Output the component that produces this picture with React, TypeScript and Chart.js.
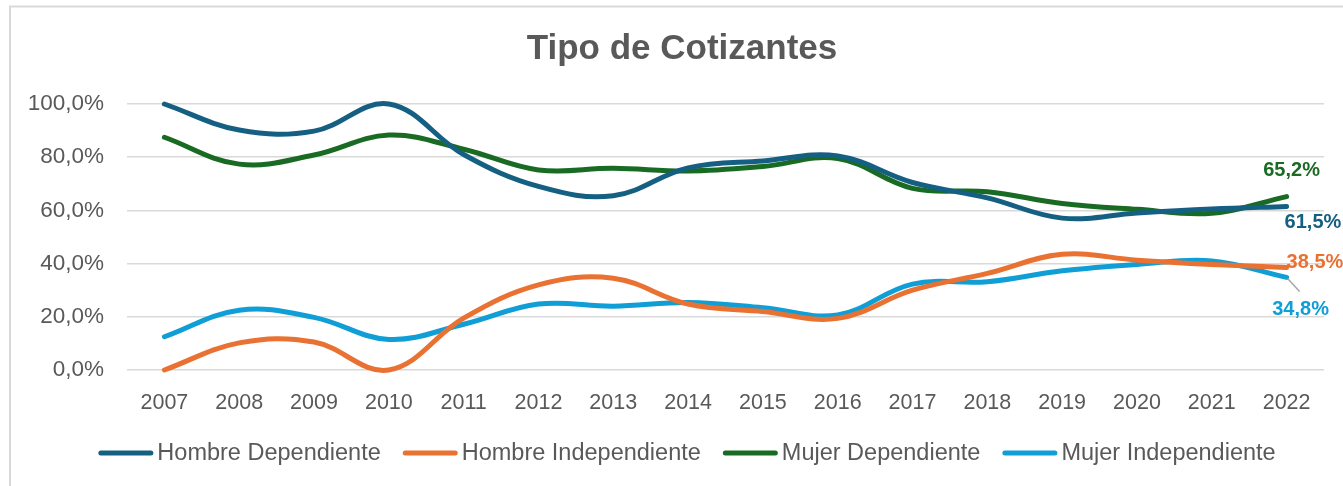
import { useEffect, useRef } from "react";
import { Chart, registerables } from "chart.js";

Chart.register(...registerables);

const FONT = '"Liberation Sans", Arial, sans-serif';
const TEXT_COLOR = "#595959";
const GRID_COLOR = "#D9D9D9";

const chartTitle = "Tipo de Cotizantes";
const years = ["2007", "2008", "2009", "2010", "2011", "2012", "2013", "2014", "2015", "2016", "2017", "2018", "2019", "2020", "2021", "2022"];
const hombreDependiente = [100, 90.2, 89.8, 100, 81, 69, 65.5, 76, 78.6, 80.5, 70.5, 64.7, 57.1, 59, 60.5, 61.5];
const hombreIndependiente = [0, 10.2, 10.5, 0, 19.5, 32, 34.5, 24.8, 22, 19.4, 30, 36.3, 43.5, 41.3, 39.7, 38.5];
const mujerDependiente = [87.5, 77.4, 80.8, 88.3, 83, 75.2, 75.8, 74.8, 76.5, 79.5, 68.3, 67, 62.6, 60.4, 58.9, 65.2];
const mujerIndependiente = [12.5, 22.5, 19.8, 11.5, 17.2, 24.8, 24, 25.4, 23.4, 20.7, 32.3, 33.2, 37.3, 39.7, 41, 34.8];
const seriesNames = ["Hombre Dependiente", "Hombre Independiente", "Mujer Dependiente", "Mujer Independiente"];
const seriesColors = ["#156082", "#E97132", "#196B24", "#0F9ED5"];
const yTickValues = [0, 20, 40, 60, 80, 100];

const fmtPct = (v: number) => v.toFixed(1).replace(".", ",") + "%";

const framePlugin = {
  id: "frame",
  beforeDraw(chart: any) {
    const { ctx, width, height } = chart;
    ctx.save();
    ctx.fillStyle = "#FFFFFF";
    ctx.fillRect(0, 0, width, height);
    ctx.strokeStyle = GRID_COLOR;
    ctx.lineWidth = 2;
    ctx.beginPath();
    ctx.moveTo(10, height);
    ctx.lineTo(10, 6.5);
    ctx.lineTo(width, 6.5);
    ctx.stroke();
    ctx.restore();
  },
};

const titlePlugin = {
  id: "customTitle",
  afterDraw(chart: any) {
    const { ctx } = chart;
    ctx.save();
    ctx.font = `bold 35px ${FONT}`;
    ctx.fillStyle = TEXT_COLOR;
    ctx.textAlign = "center";
    ctx.textBaseline = "alphabetic";
    ctx.fillText(chartTitle, 682, 59);
    ctx.restore();
  },
};

const legendPlugin = {
  id: "customLegend",
  afterDraw(chart: any) {
    const { ctx } = chart;
    ctx.save();
    ctx.font = `23.5px ${FONT}`;
    const marker = 55;
    const gapText = 4;
    const gapItem = 22;
    const items = chart.data.datasets.map((ds: any) => ({
      label: ds.label as string,
      color: ds.borderColor as string,
      w: ctx.measureText(ds.label).width,
    }));
    const total =
      items.reduce((s: number, it: any) => s + marker + gapText + it.w, 0) + gapItem * (items.length - 1);
    let x = 687 - total / 2;
    const y = 453;
    for (const it of items) {
      ctx.strokeStyle = it.color;
      ctx.lineWidth = 5;
      ctx.lineCap = "round";
      ctx.beginPath();
      ctx.moveTo(x + 2.5, y);
      ctx.lineTo(x + marker - 2.5, y);
      ctx.stroke();
      ctx.fillStyle = TEXT_COLOR;
      ctx.textAlign = "left";
      ctx.textBaseline = "middle";
      ctx.fillText(it.label, x + marker + gapText, y + 1);
      x += marker + gapText + it.w + gapItem;
    }
    ctx.restore();
  },
};

const endLabelPlugin = {
  id: "endLabels",
  afterDatasetsDraw(chart: any) {
    const { ctx } = chart;
    ctx.save();
    ctx.font = `bold 20px ${FONT}`;
    ctx.textBaseline = "middle";
    const specs = [
      { ds: 0, dx: -2, dy: 16, align: "left" },
      { ds: 1, dx: 0, dy: -5, align: "left" },
      { ds: 2, dx: 5, dy: -26, align: "center" },
      { ds: 3, dx: 14, dy: 32, align: "center", leader: true },
    ];
    for (const s of specs) {
      const meta = chart.getDatasetMeta(s.ds);
      const data = chart.data.datasets[s.ds].data as number[];
      const last = data.length - 1;
      const pt = meta.data[last];
      if (!pt) continue;
      const x = pt.x + s.dx;
      const y = pt.y + s.dy;
      if (s.leader) {
        ctx.strokeStyle = "#A6A6A6";
        ctx.lineWidth = 1.5;
        ctx.beginPath();
        ctx.moveTo(pt.x + 1, pt.y + 1);
        ctx.lineTo(pt.x + 13, pt.y + 14);
        ctx.stroke();
      }
      ctx.fillStyle = seriesColors[s.ds];
      ctx.textAlign = s.align;
      ctx.fillText(fmtPct(data[last]), x, y);
    }
    ctx.restore();
  },
};

export default function App() {
  const canvasRef = useRef<HTMLCanvasElement | null>(null);

  useEffect(() => {
    document.body.style.margin = "0";
    const canvas = canvasRef.current;
    if (!canvas) return;
    const seriesValues = [hombreDependiente, hombreIndependiente, mujerDependiente, mujerIndependiente];
    const chart = new Chart(canvas, {
      type: "line",
      data: {
        labels: years,
        datasets: seriesNames.map((name, i) => ({
          label: name,
          data: seriesValues[i],
          borderColor: seriesColors[i],
          backgroundColor: seriesColors[i],
          borderWidth: 5,
          borderCapStyle: "round",
          borderJoinStyle: "round",
          pointRadius: 0,
          pointHoverRadius: 0,
          tension: 0.38,
          fill: false,
          clip: false,
        })),
      },
      options: {
        responsive: false,
        animation: false,
        devicePixelRatio: 1,
        elements: { line: { capBezierPoints: false } },
        layout: { padding: { left: 0, right: 19, top: 104, bottom: 76 } },
        plugins: {
          legend: { display: false },
          title: { display: false },
          tooltip: { enabled: false },
        },
        scales: {
          x: {
            offset: true,
            grid: { display: false, drawTicks: false },
            border: { display: false },
            ticks: {
              color: TEXT_COLOR,
              font: { family: FONT, size: 21.5 },
              padding: 20,
              maxRotation: 0,
              autoSkip: false,
            },
            afterFit: (scale: any) => {
              scale.height = 40;
            },
          },
          y: {
            min: 0,
            max: 100,
            grid: { color: GRID_COLOR, lineWidth: 1.5, drawTicks: false },
            border: { display: false },
            afterBuildTicks: (scale: any) => {
              scale.ticks = yTickValues.map((v) => ({ value: v }));
            },
            ticks: {
              color: TEXT_COLOR,
              font: { family: FONT, size: 22.5 },
              padding: 23,
              callback: (v: any) => fmtPct(Number(v)),
            },
            afterFit: (scale: any) => {
              scale.width = 127;
            },
          },
        },
      },
      plugins: [framePlugin, titlePlugin, legendPlugin, endLabelPlugin],
    } as any);
    return () => chart.destroy();
  }, []);

  return (
    <div style={{ position: "absolute", left: 0, top: 0, width: 1343, height: 486 }}>
      <canvas ref={canvasRef} width={1343} height={486} style={{ width: 1343, height: 486, display: "block" }} />
    </div>
  );
}
